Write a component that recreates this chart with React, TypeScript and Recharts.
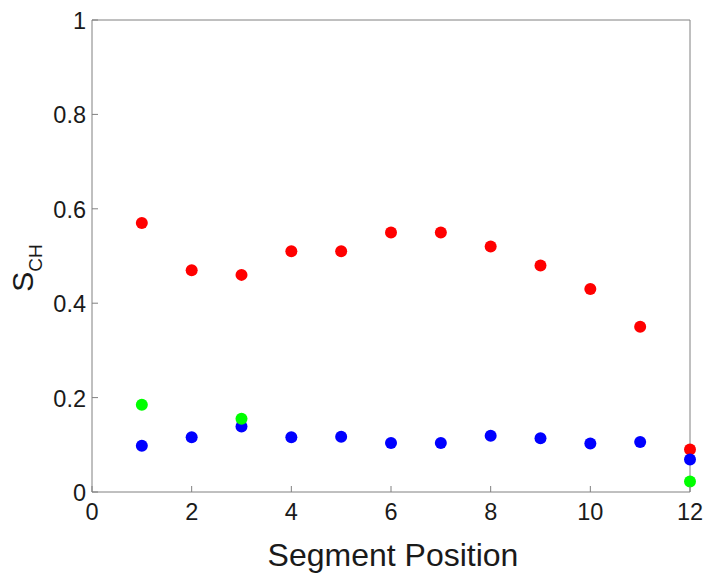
import React from 'react';
import {
    ScatterChart,
    Scatter,
    XAxis,
    YAxis,
    Label
} from 'recharts';

/* ============================
   Data
============================ */

const positions = [1, 2, 3, 4, 5, 6, 7, 8, 9, 10, 11, 12];
const redValues = [0.57, 0.47, 0.46, 0.51, 0.51, 0.55, 0.55, 0.52, 0.48, 0.43, 0.35, 0.09];
const blueValues = [0.098, 0.116, 0.139, 0.116, 0.117, 0.104, 0.104, 0.119, 0.114, 0.103, 0.106, 0.069];
const greenPositions = [1, 3, 12];
const greenValues = [0.185, 0.155, 0.022];

const xTicks = [0, 2, 4, 6, 8, 10, 12];
const yTicks = [0, 0.2, 0.4, 0.6, 0.8, 1];

const redData = positions.map((x, i) => ({ x, y: redValues[i] }));
const blueData = positions.map((x, i) => ({ x, y: blueValues[i] }));
const greenData = greenPositions.map((x, i) => ({ x, y: greenValues[i] }));

/* ============================
   Styling helpers
============================ */

const AXIS = '#808080';
const TEXT = '#1a1a1a';
const FONT = '"Liberation Sans", Arial, Helvetica, sans-serif';
const TICK = 6;

const dot = (color: string) => (p: any) => (
    <circle cx={p.cx} cy={p.cy} r={6} fill={color} />
);

const BottomTick = (p: any) => (
    <g>
        <line x1={p.x} y1={p.y} x2={p.x} y2={p.y - TICK} stroke={AXIS} />
        <text x={p.x} y={p.y + 28} textAnchor="middle" fontSize={23.5} fill={TEXT} fontFamily={FONT}>
            {p.payload.value}
        </text>
    </g>
);

const LeftTick = (p: any) => (
    <g>
        <line x1={p.x} y1={p.y} x2={p.x + TICK} y2={p.y} stroke={AXIS} />
        <text x={p.x - 6} y={p.y + 9} textAnchor="end" fontSize={23.5} fill={TEXT} fontFamily={FONT}>
            {p.payload.value}
        </text>
    </g>
);

const TopTick = (p: any) => (
    <line x1={p.x} y1={p.y} x2={p.x} y2={p.y + TICK} stroke={AXIS} />
);

const RightTick = (p: any) => (
    <line x1={p.x} y1={p.y} x2={p.x - TICK} y2={p.y} stroke={AXIS} />
);

/* ============================
   Component
============================ */

const App: React.FC = () => {
    return (
        <div style={{ position: 'absolute', left: 0, top: 0, width: 703, height: 574, background: '#fff' }}>
            <ScatterChart
                width={703}
                height={574}
                margin={{ top: 19, right: 12, bottom: 81, left: 91 }}
            >
                <XAxis
                    dataKey="x"
                    type="number"
                    domain={[0, 12]}
                    ticks={xTicks}
                    height={1}
                    tickSize={0}
                    tickMargin={0}
                    tick={BottomTick}
                    axisLine={{ stroke: AXIS }}
                    interval={0}
                >
                    <Label
                        content={() => (
                            <text x={393} y={566} textAnchor="middle" fontSize={32} fill={TEXT} fontFamily={FONT}>
                                Segment Position
                            </text>
                        )}
                    />
                </XAxis>
                <XAxis
                    xAxisId="top"
                    orientation="top"
                    dataKey="x"
                    type="number"
                    domain={[0, 12]}
                    ticks={xTicks}
                    height={1}
                    tickSize={0}
                    tickMargin={0}
                    tick={TopTick}
                    axisLine={{ stroke: AXIS }}
                    interval={0}
                />
                <YAxis
                    dataKey="y"
                    type="number"
                    domain={[0, 1]}
                    ticks={yTicks}
                    width={1}
                    tickSize={0}
                    tickMargin={0}
                    tick={LeftTick}
                    axisLine={{ stroke: AXIS }}
                    interval={0}
                >
                    <Label
                        content={() => (
                            <text
                                x={33}
                                y={268}
                                transform="rotate(-90, 33, 268)"
                                textAnchor="middle"
                                fill={TEXT}
                                fontFamily={FONT}
                            >
                                <tspan fontSize={30}>S</tspan>
                                <tspan fontSize={19} dy={9}>CH</tspan>
                            </text>
                        )}
                    />
                </YAxis>
                <YAxis
                    yAxisId="right"
                    orientation="right"
                    dataKey="y"
                    type="number"
                    domain={[0, 1]}
                    ticks={yTicks}
                    width={1}
                    tickSize={0}
                    tickMargin={0}
                    tick={RightTick}
                    axisLine={{ stroke: AXIS }}
                    interval={0}
                />
                <Scatter data={redData} fill="#ff0000" shape={dot('#ff0000')} isAnimationActive={false} />
                <Scatter data={blueData} fill="#0000ff" shape={dot('#0000ff')} isAnimationActive={false} />
                <Scatter data={greenData} fill="#00ff00" shape={dot('#00ff00')} isAnimationActive={false} />
            </ScatterChart>
        </div>
    );
};

export default App;
